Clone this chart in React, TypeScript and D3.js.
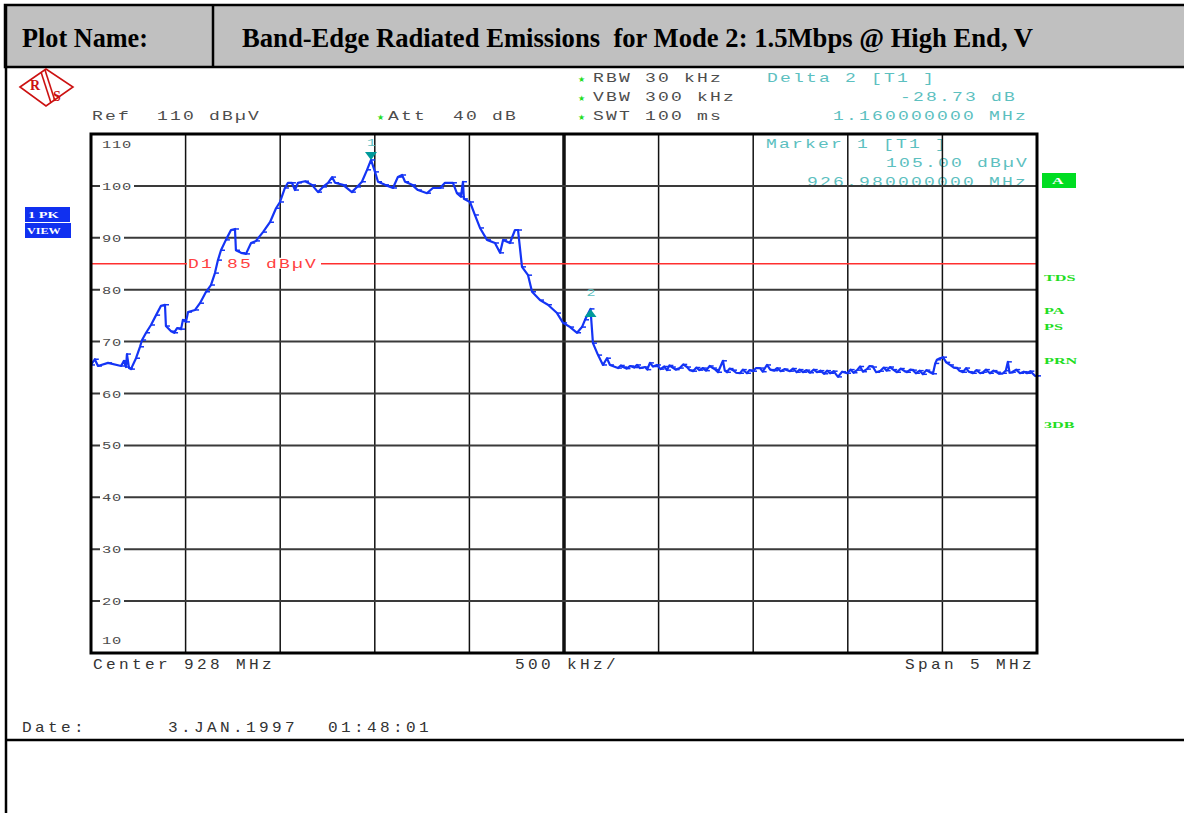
import * as d3 from 'd3'

// trace: frequency (MHz) and level (dBµV)
const freqs = [
  925.5, 925.52, 925.537, 925.59, 925.659, 925.674, 925.685, 925.69, 925.701, 925.711,
  925.738, 925.759, 925.77, 925.791, 925.817, 925.844, 925.87, 925.891, 925.896, 925.923,
  925.939, 925.955, 925.976, 925.986, 926.002, 926.013, 926.05, 926.076, 926.108, 926.134,
  926.155, 926.171, 926.187, 926.213, 926.24, 926.261, 926.266, 926.293, 926.319, 926.346,
  926.372, 926.409, 926.446, 926.478, 926.499, 926.525, 926.541, 926.562, 926.578, 926.594,
  926.631, 926.668, 926.7, 926.726, 926.753, 926.774, 926.79, 926.832, 926.879, 926.906,
  926.932, 926.959, 926.98, 927.001, 927.017, 927.054, 927.096, 927.122, 927.144, 927.16,
  927.197, 927.228, 927.276, 927.307, 927.345, 927.371, 927.413, 927.434, 927.455, 927.466,
  927.471, 927.503, 927.529, 927.556, 927.593, 927.635, 927.662, 927.678, 927.714, 927.741,
  927.757, 927.778, 927.81, 927.831, 927.873, 927.915, 927.963, 927.995, 928.032, 928.069,
  928.095, 928.111, 928.14, 928.153, 928.18, 928.206, 928.227, 928.243,
  928.285, 928.3, 928.312, 928.33, 928.35, 928.37, 928.386, 928.4, 928.428, 928.44,
  928.454, 928.47, 928.491, 928.51, 928.53, 928.544, 928.557, 928.57, 928.59, 928.612,
  928.63, 928.65, 928.665, 928.682, 928.7, 928.715, 928.734, 928.75, 928.77, 928.787,
  928.8, 928.814, 928.84, 928.85, 928.861, 928.875, 928.893, 928.91, 928.93, 928.945,
  928.967, 928.98, 928.999, 929.015, 929.036, 929.05, 929.073, 929.09, 929.11, 929.126,
  929.145, 929.165, 929.194, 929.21, 929.23, 929.245, 929.263, 929.28, 929.3, 929.32,
  929.337, 929.355, 929.375, 929.39, 929.406, 929.425, 929.448, 929.47, 929.496, 929.515,
  929.53, 929.549, 929.565, 929.58, 929.601, 929.615, 929.633, 929.65, 929.67, 929.69,
  929.705, 929.723, 929.74, 929.76, 929.78, 929.8, 929.813, 929.83, 929.844, 929.86,
  929.88, 929.897, 929.915, 929.934, 929.95, 929.962, 929.971, 929.987, 930.003, 930.02,
  930.04, 930.06, 930.077, 930.09, 930.109, 930.125, 930.14, 930.161, 930.18, 930.2,
  930.214, 930.23, 930.251, 930.27, 930.288, 930.3, 930.32, 930.335, 930.346, 930.355,
  930.367, 930.39, 930.41, 930.43, 930.447, 930.465, 930.489, 930.5,
]
const levels = [
  65.5, 66.6, 65.3, 65.9, 65.3, 66.3, 65.1, 67.6, 64.9, 64.7,
  66.8, 69.0, 70.3, 71.7, 73.2, 75.1, 76.9, 77.1, 73.0, 72.0,
  71.7, 72.6, 72.4, 74.2, 73.8, 75.7, 76.1, 77.4, 79.6, 80.9,
  83.2, 85.7, 87.6, 89.6, 91.5, 91.7, 87.6, 87.1, 86.9, 89.0,
  89.4, 91.1, 93.0, 95.7, 96.9, 99.6, 100.6, 100.6, 99.2, 100.6,
  100.9, 100.2, 98.8, 99.8, 100.6, 101.7, 100.6, 100.2, 98.8, 99.8,
  100.8, 103.1, 105.0, 102.7, 100.8, 100.2, 99.6, 101.7, 102.1, 100.8,
  100.2, 99.2, 98.6, 99.6, 99.6, 100.6, 100.6, 98.6, 97.9, 100.8,
  97.5, 96.9, 94.4, 91.9, 89.6, 89.0, 87.1, 89.6, 89.0, 91.5,
  91.5, 84.4, 82.8, 79.6, 78.0, 77.1, 75.5, 73.6, 72.8, 71.7,
  72.8, 74.2, 76.3, 69.7, 67.4, 65.5, 66.8, 65.5,
  64.9, 65.4, 65.1, 64.8, 65.3, 65.0, 65.5, 64.9, 65.1, 64.6,
  65.9, 65.2, 65.5, 64.7, 65.2, 64.5, 65.4, 65.1, 64.6, 64.9,
  65.6, 65.1, 64.5, 64.3, 65.0, 64.5, 64.9, 64.4, 65.3, 64.9,
  64.6, 64.1, 66.3, 64.4, 64.1, 64.8, 64.5, 64.0, 63.9, 64.6,
  63.9, 64.5, 64.3, 64.9, 64.9, 64.2, 65.5, 64.6, 64.4, 64.9,
  64.3, 64.7, 64.3, 64.8, 64.1, 64.6, 64.1, 64.5, 64.0, 64.6,
  64.1, 64.4, 63.8, 64.4, 63.9, 64.3, 63.2, 64.2, 63.9, 64.6,
  64.0, 64.5, 65.2, 64.2, 64.7, 65.3, 65.1, 64.1, 64.3, 65.0,
  64.4, 65.1, 64.6, 64.1, 64.8, 64.3, 64.1, 64.6, 64.5, 63.9,
  64.4, 63.7, 64.5, 64.1, 63.8, 65.8, 66.5, 66.8, 67.0, 66.0,
  65.5, 65.0, 64.9, 64.4, 64.1, 64.9, 64.2, 63.9, 64.5, 63.9,
  64.1, 64.6, 63.9, 64.4, 64.1, 63.8, 63.9, 64.4, 66.1, 64.0,
  64.1, 64.6, 63.9, 64.2, 63.9, 64.3, 63.4, 63.4,
]

const gridFreqs = [925.5, 926, 926.5, 927, 927.5, 928, 928.5, 929, 929.5, 930, 930.5]
const levelTicks = [100, 90, 80, 70, 60, 50, 40, 30, 20]
const displayLine = 85
const markers = [
  { id: '1', freq: 926.98, level: 105.0, dir: 'down' },
  { id: '2', freq: 928.14, level: 76.27, dir: 'up' },
]
const sideLabels = [
  { text: 'TDS', y: 281 },
  { text: 'PA', y: 314 },
  { text: 'PS', y: 330 },
  { text: 'PRN', y: 364 },
  { text: '3DB', y: 428 },
]

const MONO = "'Liberation Mono', 'DejaVu Sans Mono', monospace"
const SERIF = "'Liberation Serif', 'DejaVu Serif', serif"
const GRAY = '#4d4d4d'
const TEAL = '#5cc0c0'
const BLUE = '#1434f5'
const GREEN = '#22dd22'

// instrument font: wide, thin glyphs on a 13px pitch
function Mono({ x, y, text, fill = GRAY, size = 12, sx = 1.5, ls = 1.47 }: any) {
  return (
    <text
      transform={`translate(${x},${y}) scale(${sx},1)`}
      fontFamily={MONO}
      fontSize={size}
      fill={fill}
      style={{ letterSpacing: `${ls}px`, whiteSpace: 'pre' }}
    >
      {text}
    </text>
  )
}

function Star({ x, y }: { x: number; y: number }) {
  return (
    <text x={x} y={y} fontFamily="'DejaVu Sans', sans-serif" fontSize={8} fill={GREEN}>
      ★
    </text>
  )
}

function Tag({ x, y, text, fill = GREEN, sx = 1.8, size = 9 }: any) {
  return (
    <text
      transform={`translate(${x},${y}) scale(${sx},1)`}
      fontFamily={SERIF}
      fontWeight="bold"
      fontSize={size}
      fill={fill}
    >
      {text}
    </text>
  )
}

export default function App() {
  const x = d3.scaleLinear().domain([925.5, 930.5]).range([91, 1037])
  const y = d3.scaleLinear().domain([10, 110]).range([653, 134])

  const line = d3
    .line<number>()
    .x((_, i) => x(freqs[i]))
    .y((d) => y(d))

  const W = 1184
  const H = 813
  const axisText = { size: 11, sx: 1.4, ls: 0.55 }
  const footText = { size: 14, sx: 1.15, ls: 2.9, fill: '#333' }

  return (
    <div style={{ position: 'absolute', left: 0, top: 0 }}>
      <svg width={W} height={H} viewBox={`0 0 ${W} ${H}`} style={{ display: 'block' }}>
        <rect width={W} height={H} fill="#fff" />

        {/* header */}
        <rect x={5} y={5} width={W} height={62} fill="#c0c0c0" stroke="#000" strokeWidth={2.5} />
        <line x1={213} y1={5} x2={213} y2={67} stroke="#000" strokeWidth={2.5} />
        <text x={22} y={47} fontFamily={SERIF} fontWeight="bold" fontSize={28} textLength={126} lengthAdjust="spacingAndGlyphs">
          Plot Name:
        </text>
        <text x={242} y={47} fontFamily={SERIF} fontWeight="bold" fontSize={28} textLength={791} lengthAdjust="spacingAndGlyphs" style={{ whiteSpace: 'pre' }}>
          {'Band-Edge Radiated Emissions  for Mode 2: 1.5Mbps @ High End, V'}
        </text>
        <line x1={6} y1={5} x2={6} y2={H} stroke="#000" strokeWidth={2.5} />
        <line x1={5} y1={740} x2={W} y2={740} stroke="#000" strokeWidth={2.5} />

        {/* R&S logo */}
        <g stroke="#cc1111" fill="none" strokeWidth={1.6}>
          <polygon points="20,87 46,69 73,87 46,106" />
          <line x1={41} y1={72} x2={51} y2={103} />
          <line x1={45} y1={70} x2={55} y2={101} />
        </g>
        <text x={30} y={90} fontFamily={SERIF} fontWeight="bold" fontSize={14} fill="#cc1111">R</text>
        <text x={53} y={101} fontFamily={SERIF} fontWeight="bold" fontSize={14} fill="#cc1111">S</text>

        {/* instrument settings */}
        <Mono x={92} y={120} text="Ref  110 dBµV" />
        <Star x={377} y={120} />
        <Mono x={388} y={120} text="Att  40 dB" />
        <Star x={578} y={82} />
        <Mono x={593} y={82} text="RBW 30 kHz" />
        <Star x={578} y={101} />
        <Mono x={593} y={101} text="VBW 300 kHz" />
        <Star x={578} y={120} />
        <Mono x={593} y={120} text="SWT 100 ms" />
        <Mono x={767} y={82} text="Delta 2 [T1 ]" fill={TEAL} />
        <Mono x={900} y={101} text="-28.73 dB" fill={TEAL} />
        <Mono x={833} y={120} text="1.160000000 MHz" fill={TEAL} />
        <Mono x={766} y={148} text="Marker 1 [T1 ]" fill={TEAL} />
        <Mono x={886} y={167} text="105.00 dBµV" fill={TEAL} />
        <Mono x={807} y={186} text="926.980000000 MHz" fill={TEAL} />

        {/* grid */}
        {gridFreqs.slice(1, -1).map((f) => (
          <line
            key={f}
            x1={x(f)}
            x2={x(f)}
            y1={y(110)}
            y2={y(10)}
            stroke="#111"
            strokeWidth={f === 928 ? 3.5 : 1.5}
          />
        ))}
        {levelTicks.map((v) => (
          <line key={v} x1={x(925.5)} x2={x(930.5)} y1={y(v)} y2={y(v)} stroke="#3a3a3a" strokeWidth={2} />
        ))}
        {levelTicks.map((v) => {
          const s = String(v)
          return (
            <g key={'l' + v}>
              <rect x={100} y={y(v) - 5} width={s.length * 10 + 4} height={10} fill="#fff" />
              <Mono x={102} y={y(v) + 4} text={s} fill={GRAY} {...axisText} />
            </g>
          )
        })}
        <Mono x={102} y={148} text="110" fill={GRAY} {...axisText} />
        <Mono x={102} y={644} text="10" fill={GRAY} {...axisText} />

        {/* display line D1 */}
        <line x1={x(925.5)} x2={x(930.5)} y1={y(displayLine)} y2={y(displayLine)} stroke="#ff3030" strokeWidth={1.5} />
        <rect x={187} y={y(displayLine) - 6} width={134} height={11} fill="#fff" />
        <Mono x={188} y={y(displayLine) + 4} text="D1 85 dBµV" fill="#ff4040" />

        {/* trace */}
        <path d={line(levels) ?? ''} fill="none" stroke={BLUE} strokeWidth={2.2} strokeLinejoin="round" />
        {levels.map((v, i) => (
          <line
            key={'t' + i}
            x1={x(freqs[i])}
            x2={x(freqs[i]) + 4}
            y1={y(v)}
            y2={y(v)}
            stroke={BLUE}
            strokeWidth={1.5}
          />
        ))}

        {/* markers */}
        {markers.map((m) => {
          const mx = x(m.freq)
          const my = y(m.level)
          const pts =
            m.dir === 'down'
              ? `${mx - 6},${my - 8} ${mx + 6},${my - 8} ${mx},${my}`
              : `${mx - 6},${my + 8} ${mx + 6},${my + 8} ${mx},${my}`
          const ly = m.dir === 'down' ? my - 14 : my - 13
          return (
            <g key={m.id}>
              <polygon points={pts} fill="#009a9a" />
              <Mono x={mx - 4} y={ly} text={m.id} fill={TEAL} size={10} />
            </g>
          )
        })}

        {/* frame */}
        <rect x={x(925.5)} y={y(110)} width={x(930.5) - x(925.5)} height={y(10) - y(110)} fill="none" stroke="#000" strokeWidth={3} />

        {/* side boxes */}
        <rect x={25} y={207} width={45} height={15} fill="#1030f0" />
        <Tag x={28} y={218} text="1 PK" fill="#fff" sx={1.6} />
        <rect x={25} y={223} width={46} height={15} fill="#1030f0" />
        <Tag x={27} y={234} text="VIEW" fill="#fff" sx={1.35} />
        <rect x={1042} y={173} width={34} height={15} fill="#00dd22" />
        <Tag x={1052} y={184} text="A" fill="#fff" />
        {sideLabels.map((s) => (
          <Tag key={s.text} x={1044} y={s.y} text={s.text} />
        ))}

        {/* footer */}
        <Mono x={93} y={669} text="Center 928 MHz" {...footText} />
        <Mono x={515} y={669} text="500 kHz/" {...footText} />
        <Mono x={905} y={669} text="Span 5 MHz" {...footText} />
        <Mono x={22} y={732} text="Date:" {...footText} />
        <Mono x={168} y={732} text="3.JAN.1997" {...footText} />
        <Mono x={328} y={732} text="01:48:01" {...footText} />
      </svg>
    </div>
  )
}
